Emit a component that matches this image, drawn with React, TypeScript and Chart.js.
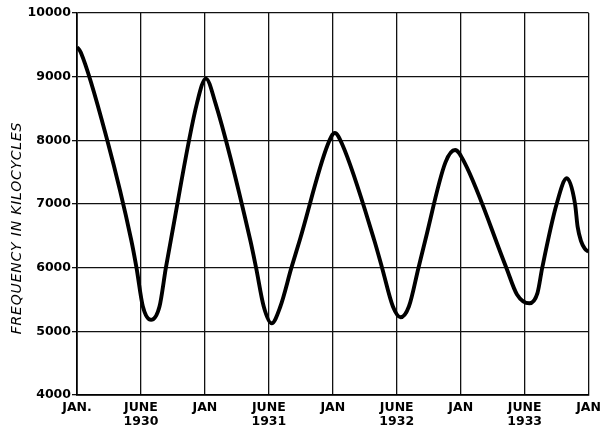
import { useEffect, useRef } from 'react';
import { Chart, registerables } from 'chart.js';

Chart.register(...registerables);

// x positions in grid intervals (0 = JAN. 1930 ... 8 = JAN 1934), y = frequency in kc
const xPositions = [
  0, 0.06, 0.473, 0.848, 0.93, 1.03, 1.158, 1.29, 1.39, 1.468,
  1.88, 2.016, 2.16, 2.709, 2.8, 2.92, 3.043, 3.18, 3.353, 3.484,
  3.92, 4.031, 4.15, 4.647, 4.77, 4.94, 5.059, 5.19, 5.34, 5.447,
  5.76, 5.912, 6.06, 6.713, 6.88, 7.074, 7.2, 7.275,
  7.5, 7.659, 7.788, 7.828, 7.88, 7.94, 8.0,
];
const frequencies = [
  9466, 9380, 8000, 6435, 6000, 5390, 5180, 5390, 6000, 6435,
  8600, 8970, 8600, 6435, 6000, 5390, 5126, 5390, 6000, 6435,
  7930, 8115, 7930, 6435, 6000, 5390, 5221, 5390, 6000, 6435,
  7650, 7848, 7650, 6000, 5580, 5440, 5600, 6000,
  7000, 7404, 7000, 6644, 6420, 6300, 6250,
];

const monthLabels = ['JAN.', 'JUNE', 'JAN', 'JUNE', 'JAN', 'JUNE', 'JAN', 'JUNE', 'JAN'];
const yearLabels = ['', '1930', '', '1931', '', '1932', '', '1933', ''];
const yMin = 4000;
const yMax = 10000;
const yStep = 1000;
const yTitle = 'FREQUENCY IN KILOCYCLES';

const yTitlePlugin = {
  id: 'yTitleCustom',
  afterDraw(chart: any) {
    const ctx = chart.ctx as CanvasRenderingContext2D;
    ctx.save();
    ctx.translate(17, 228);
    ctx.rotate(-Math.PI / 2);
    ctx.font = 'italic 14px "DejaVu Sans"';
    try {
      (ctx as any).letterSpacing = '0.8px';
    } catch (e) {}
    ctx.textAlign = 'center';
    ctx.textBaseline = 'middle';
    ctx.fillStyle = '#000';
    ctx.fillText(yTitle, 0, 0);
    ctx.restore();
  },
};

export default function App() {
  const ref = useRef<HTMLCanvasElement>(null);

  useEffect(() => {
    document.body.style.margin = '0';
    const canvas = ref.current;
    if (!canvas) return;
    const points = xPositions.map((x, i) => ({ x, y: frequencies[i] }));
    const tickFont = { family: '"DejaVu Sans", sans-serif', size: 12.5, weight: 'bold' as const };
    const chart = new Chart(canvas, {
      type: 'line',
      data: {
        datasets: [
          {
            data: points,
            borderColor: '#000',
            borderWidth: 3.9,
            pointRadius: 0,
            fill: false,
            cubicInterpolationMode: 'monotone',
          },
        ],
      },
      options: {
        responsive: false,
        animation: false,
        devicePixelRatio: 1,
        layout: { padding: { top: 13, right: 14, left: 0, bottom: 0 } },
        plugins: { legend: { display: false }, tooltip: { enabled: false } },
        scales: {
          x: {
            type: 'linear',
            min: 0,
            max: monthLabels.length - 1,
            ticks: {
              stepSize: 1,
              autoSkip: false,
              maxRotation: 0,
              color: '#000',
              padding: 6,
              font: { ...tickFont, lineHeight: 1.1 },
              callback: (_v: any, i: number) =>
                yearLabels[i] ? [monthLabels[i], yearLabels[i]] : monthLabels[i],
            },
            grid: { color: '#111', lineWidth: 1.3, drawTicks: false },
            border: { color: '#000', width: 1.7 },
            afterFit: (s: any) => {
              s.height = 32;
            },
          },
          y: {
            type: 'linear',
            min: yMin,
            max: yMax,
            ticks: {
              stepSize: yStep,
              color: '#000',
              padding: 1,
              font: tickFont,
              callback: (v: any) => String(v),
            },
            grid: { color: '#111', lineWidth: 1.3, drawTicks: true, tickLength: 5 },
            border: { color: '#000', width: 1.7 },
            afterFit: (s: any) => {
              s.width = 77;
            },
          },
        },
      },
      plugins: [yTitlePlugin],
    });
    return () => chart.destroy();
  }, []);

  return <canvas ref={ref} width={607} height={427} style={{ display: 'block' }} />;
}
